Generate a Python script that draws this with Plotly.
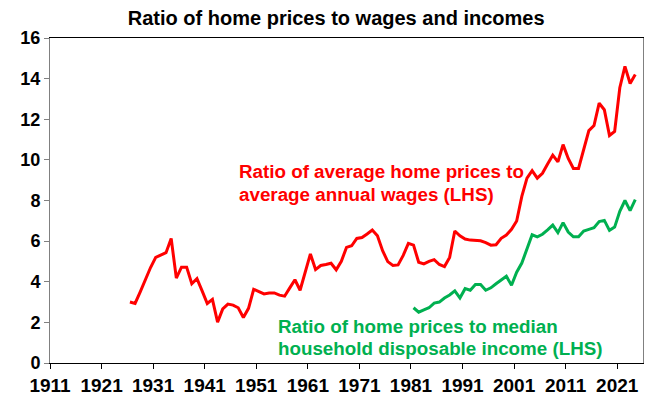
import plotly.graph_objects as go

# Ratio of average home prices to average annual wages (annual, 1926-2024)
wage_years = list(range(1926, 2025))
wage_ratio = [
    3.00, 2.93, 3.50, 4.10, 4.70, 5.20, 5.33, 5.43, 6.13, 4.18,
    4.72, 4.72, 3.90, 4.15, 3.55, 2.93, 3.13, 2.01, 2.66, 2.90,
    2.85, 2.72, 2.24, 2.69, 3.63, 3.50, 3.40, 3.45, 3.45, 3.34,
    3.29, 3.70, 4.10, 3.58, 4.50, 5.37, 4.60, 4.80, 4.85, 4.91,
    4.59, 5.01, 5.69, 5.77, 6.13, 6.18, 6.35, 6.55, 6.26, 5.53,
    4.99, 4.80, 4.83, 5.30, 5.89, 5.80, 4.96, 4.88, 5.00, 5.09,
    4.85, 4.75, 5.20, 6.50, 6.26, 6.10, 6.05, 6.02, 6.02, 5.93,
    5.80, 5.82, 6.14, 6.30, 6.58, 6.99, 8.20, 9.10, 9.47, 9.10,
    9.34, 9.80, 10.23, 9.90, 10.75, 10.07, 9.58, 9.58, 10.47, 11.44,
    11.69, 12.79, 12.47, 11.20, 11.40, 13.55, 14.60, 13.76, 14.20,
]

# Ratio of home prices to median household disposable income (1981-2024)
income_years = list(range(1981, 2025))
income_ratio = [
    2.72, 2.50, 2.62, 2.72, 2.95, 3.00, 3.20, 3.35, 3.55, 3.20,
    3.66, 3.58, 3.86, 3.86, 3.58, 3.70, 3.90, 4.10, 4.27, 3.83,
    4.47, 4.92, 5.60, 6.31, 6.21, 6.34, 6.55, 6.79, 6.42, 6.91,
    6.45, 6.21, 6.21, 6.50, 6.58, 6.66, 6.96, 7.02, 6.53, 6.69,
    7.47, 8.00, 7.50, 8.04,
]

tick_labels = [str(y) for y in range(1911, 2031, 10)]
y_ticks = list(range(0, 17, 2))

RED = "#FF0000"
GREEN = "#00B050"
FONT = "Liberation Sans, Arial, sans-serif"

fig = go.Figure()
fig.add_trace(go.Scatter(x=wage_years, y=wage_ratio, mode="lines",
                         line=dict(color=RED, width=3), showlegend=False))
fig.add_trace(go.Scatter(x=income_years, y=income_ratio, mode="lines",
                         line=dict(color=GREEN, width=3), showlegend=False))

fig.update_layout(
    width=663, height=400,
    margin=dict(l=38, r=28, t=30, b=41),
    paper_bgcolor="white", plot_bgcolor="white",
    font=dict(family=FONT, color="black"),
    title=dict(text="Ratio of home prices to wages and incomes",
               x=0.495, xanchor="center", y=0.976, yanchor="middle",
               font=dict(family=FONT, size=20, color="black", weight="bold")),
)

fig.update_xaxes(
    range=[1910.5, 2025.5],
    tickvals=[int(t) - 0.5 for t in tick_labels],
    ticktext=tick_labels,
    ticks="outside", ticklen=5, tickcolor="black",
    showline=True, linecolor="black", linewidth=1, mirror=True,
    showgrid=False, zeroline=False,
    tickfont=dict(family=FONT, size=19, color="black", weight="bold"),
)
fig.update_yaxes(
    range=[0, 16],
    tickvals=y_ticks,
    ticks="outside", ticklen=5, tickcolor="#808080",
    showline=True, linecolor="#808080", linewidth=1, mirror=True,
    showgrid=False, zeroline=False,
    tickfont=dict(family=FONT, size=18, color="black", weight="bold"),
)

def add_label(text, x, y, color):
    fig.add_annotation(text=text, xref="paper", yref="paper", x=x, y=y,
                       xanchor="left", yanchor="middle", showarrow=False,
                       font=dict(family=FONT, size=18.8, color=color, weight="bold"))

add_label("Ratio of average home prices to", 0.316, 0.590, RED)
add_label("average annual wages (LHS)", 0.316, 0.520, RED)
add_label("Ratio of home prices to median", 0.381, 0.112, GREEN)
add_label("household disposable income (LHS)", 0.381, 0.045, GREEN)

fig.write_html("out.html")
